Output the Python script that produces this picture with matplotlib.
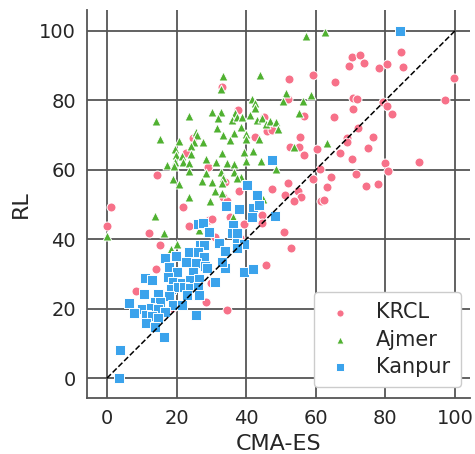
import numpy as np
import matplotlib
matplotlib.use('Agg')
from matplotlib import pyplot as plt

# CMA-ES (x) vs RL (y) per zone
krcl_x = [84.5, 70.4, 72.7, 69.5, 73.9, 78.2, 80.5, 85.1, 52.3, 59.2, 65.5, 99.7, 97.1, 70.7, 71.8,
          79.3, 80.5, 81.9, 70.7, 52.0, 56.6, 65.2, 72.1, 55.5, 76.4, 69.0, 69.0, 52.6, 55.2, 75.0,
          60.3, 56.6, 67.0, 70.4, 79.9, 89.7, 61.2, 80.7, 64.4, 71.6, 59.2, 47.4, 52.0, 63.2, 74.4,
          77.9, 54.9, 51.1, 55.7, 53.7, 61.5, 62.3, 50.9, 52.9, 46.0, 47.4, 44.5, 1.1, 0.0, 12.1,
          21.8, 23.6, 15.2, 14.1, 8.3, 29.3, 30.2, 37.9, 33.3, 34.5, 35.3, 39.4, 31.0, 45.7, 28.4,
          34.5, 29.9, 44.5, 14.4, 33.9, 38.2, 33.0, 37.6, 45.1, 42.5, 24.7, 22.7, 29.0, 18.7]
krcl_y = [94.0, 92.5, 93.1, 89.9, 90.8, 89.3, 90.5, 89.6, 86.2, 87.3, 85.3, 86.5, 80.1, 80.7, 80.4,
          79.5, 78.4, 76.1, 77.5, 80.4, 75.5, 75.2, 72.0, 69.5, 69.5, 69.2, 68.0, 66.6, 66.6, 66.3,
          66.0, 64.3, 64.8, 63.1, 62.0, 62.2, 60.2, 59.6, 58.0, 58.8, 57.3, 54.5, 56.2, 55.0, 55.3,
          55.9, 53.9, 52.7, 52.2, 51.0, 51.0, 51.2, 42.1, 37.5, 71.2, 71.5, 47.0, 49.3, 43.8, 41.8,
          49.3, 43.8, 38.3, 31.4, 25.1, 45.5, 45.8, 53.9, 52.2, 51.0, 46.4, 44.4, 40.6, 32.6, 21.9,
          19.6, 27.4, 44.7, 58.5, 56.5, 40.3, 83.9, 77.2, 75.2, 69.5, 69.2, 64.8, 60.8, 20.2]

ajmer_x = [33.3, 44.0, 32.8, 41.7, 42.5, 42.5, 14.1, 23.6, 30.2, 32.8, 31.9, 36.8, 35.9, 37.4, 38.8,
           41.1, 43.1, 44.5, 45.7, 46.8, 48.6, 31.6, 38.5, 49.1, 15.2, 25.6, 25.9, 25.0, 27.6, 20.7,
           33.3, 36.5, 39.9, 35.3, 39.9, 43.7, 24.1, 19.5, 24.1, 19.8, 21.6, 33.0, 39.4, 42.0, 28.4,
           19.5, 21.8, 23.6, 31.3, 34.5, 36.5, 39.9, 44.3, 17.2, 19.2, 23.6, 28.4, 32.8, 36.5, 38.5,
           33.3, 48.6, 19.0, 20.7, 27.3, 30.2, 33.0, 37.4, 31.0, 33.0, 23.6, 57.2, 62.6, 51.4, 50.6,
           56.3, 58.6, 55.2, 63.2, 53.7, 44.8, 29.6, 13.8, 16.4, 36.2, 26.4, 20.1, 18.4, 0.0]
ajmer_y = [87.0, 87.3, 83.3, 80.4, 79.3, 77.8, 74.1, 75.5, 76.7, 76.7, 74.9, 76.4, 74.4, 75.2, 75.2,
           75.8, 74.4, 74.9, 73.2, 74.1, 73.8, 72.0, 72.3, 71.8, 68.9, 70.9, 70.0, 68.0, 68.0, 68.3,
           70.0, 70.6, 70.3, 68.6, 68.9, 68.9, 66.9, 66.0, 64.6, 64.3, 64.0, 64.8, 65.1, 65.4, 63.1,
           62.2, 62.2, 62.0, 62.2, 62.0, 61.7, 62.5, 62.5, 61.4, 61.1, 59.7, 59.1, 59.4, 59.4, 58.0,
           57.6, 60.2, 57.3, 55.9, 56.8, 56.5, 56.2, 57.6, 53.9, 53.3, 52.2, 98.6, 99.7, 82.1, 79.8,
           79.8, 81.6, 76.4, 67.7, 66.6, 51.6, 51.0, 46.7, 41.8, 46.4, 42.6, 38.6, 37.2, 40.9]

kanpur_x = [84.2, 47.4, 40.2, 43.1, 34.2, 37.9, 42.0, 43.7, 48.3, 41.7, 26.1, 27.6, 29.3, 36.2, 35.9,
            37.4, 32.2, 37.4, 39.4, 37.4, 26.7, 27.9, 33.9, 16.7, 19.8, 23.6, 26.1, 27.9, 22.7, 25.6,
            28.2, 28.7, 17.8, 20.1, 24.7, 33.9, 39.4, 42.0, 10.9, 12.9, 17.5, 19.0, 21.6, 23.9, 26.4,
            31.0, 18.4, 20.4, 22.1, 23.9, 26.1, 10.6, 14.7, 17.8, 23.0, 26.4, 13.8, 15.2, 19.0, 21.6,
            6.3, 10.1, 12.6, 14.7, 16.7, 7.8, 11.2, 12.9, 14.7, 11.2, 13.8, 16.4, 25.6, 3.7, 3.4, 33.0]
kanpur_y = [100.0, 62.8, 55.5, 52.7, 49.6, 48.7, 49.0, 49.9, 46.7, 46.4, 44.4, 44.7, 42.1, 44.1, 41.8,
            41.8, 38.9, 38.9, 38.6, 37.5, 38.3, 38.3, 36.6, 34.6, 35.2, 36.3, 36.3, 34.9, 33.4, 33.1,
            32.3, 31.7, 32.0, 30.5, 30.5, 31.7, 30.5, 31.4, 28.8, 28.2, 29.1, 27.7, 27.4, 28.2, 28.5,
            27.7, 25.6, 26.2, 26.2, 25.9, 26.2, 24.2, 24.2, 23.6, 23.9, 23.9, 21.9, 21.9, 21.0, 21.0,
            21.6, 19.9, 20.2, 19.9, 19.0, 18.7, 18.2, 17.9, 17.3, 15.9, 14.7, 11.8, 18.2, 8.1, 0.0, 33.4]

zones = ['KRCL', 'Ajmer', 'Kanpur']
colors = ['#f77189', '#50b131', '#3ba3ec']
markers = ['o', '^', 's']
ticks = [0, 20, 40, 60, 80, 100]

text_color = '#262626'
grid_color = '#555555'

fig = plt.figure(figsize=(4.75, 4.54), dpi=100)
ax = fig.add_axes([0.183, 0.123, 0.806, 0.855])

series = [(krcl_x, krcl_y), (ajmer_x, ajmer_y), (kanpur_x, kanpur_y)]
for (xs, ys), name, c, m in zip(series, zones, colors, markers):
    ax.scatter(xs, ys, s=42, c=c, marker=m, edgecolors='white', linewidths=0.7,
               label=name, zorder=3)

ax.plot([0, 100], [0, 100], color='black', linestyle='--', linewidth=1.1, zorder=4)

ax.set_xlim(-5.75, 104.3)
ax.set_ylim(-5.76, 106.05)
ax.set_xticks(ticks)
ax.set_yticks(ticks)
ax.grid(True, color=grid_color, linewidth=1.3, zorder=0)
ax.set_axisbelow(True)
ax.tick_params(length=0, labelsize=14, labelcolor=text_color, pad=8)

for side in ['top', 'right']:
    ax.spines[side].set_visible(False)
for side in ['left', 'bottom']:
    ax.spines[side].set_color(grid_color)
    ax.spines[side].set_linewidth(1.3)

ax.set_xlabel('CMA-ES', fontsize=16, color=text_color, labelpad=4)
ax.set_ylabel('RL', fontsize=16, color=text_color, labelpad=6)

leg = ax.legend(loc='lower right', bbox_to_anchor=(0.9765, 0.028), borderaxespad=0,
                fontsize=15, markerscale=0.8, handletextpad=1.0, borderpad=0.5,
                labelspacing=0.35, handlelength=1.5, framealpha=1)
for t in leg.get_texts():
    t.set_color(text_color)
leg.get_frame().set_edgecolor('#cccccc')

fig.savefig('out.png', dpi=100)
